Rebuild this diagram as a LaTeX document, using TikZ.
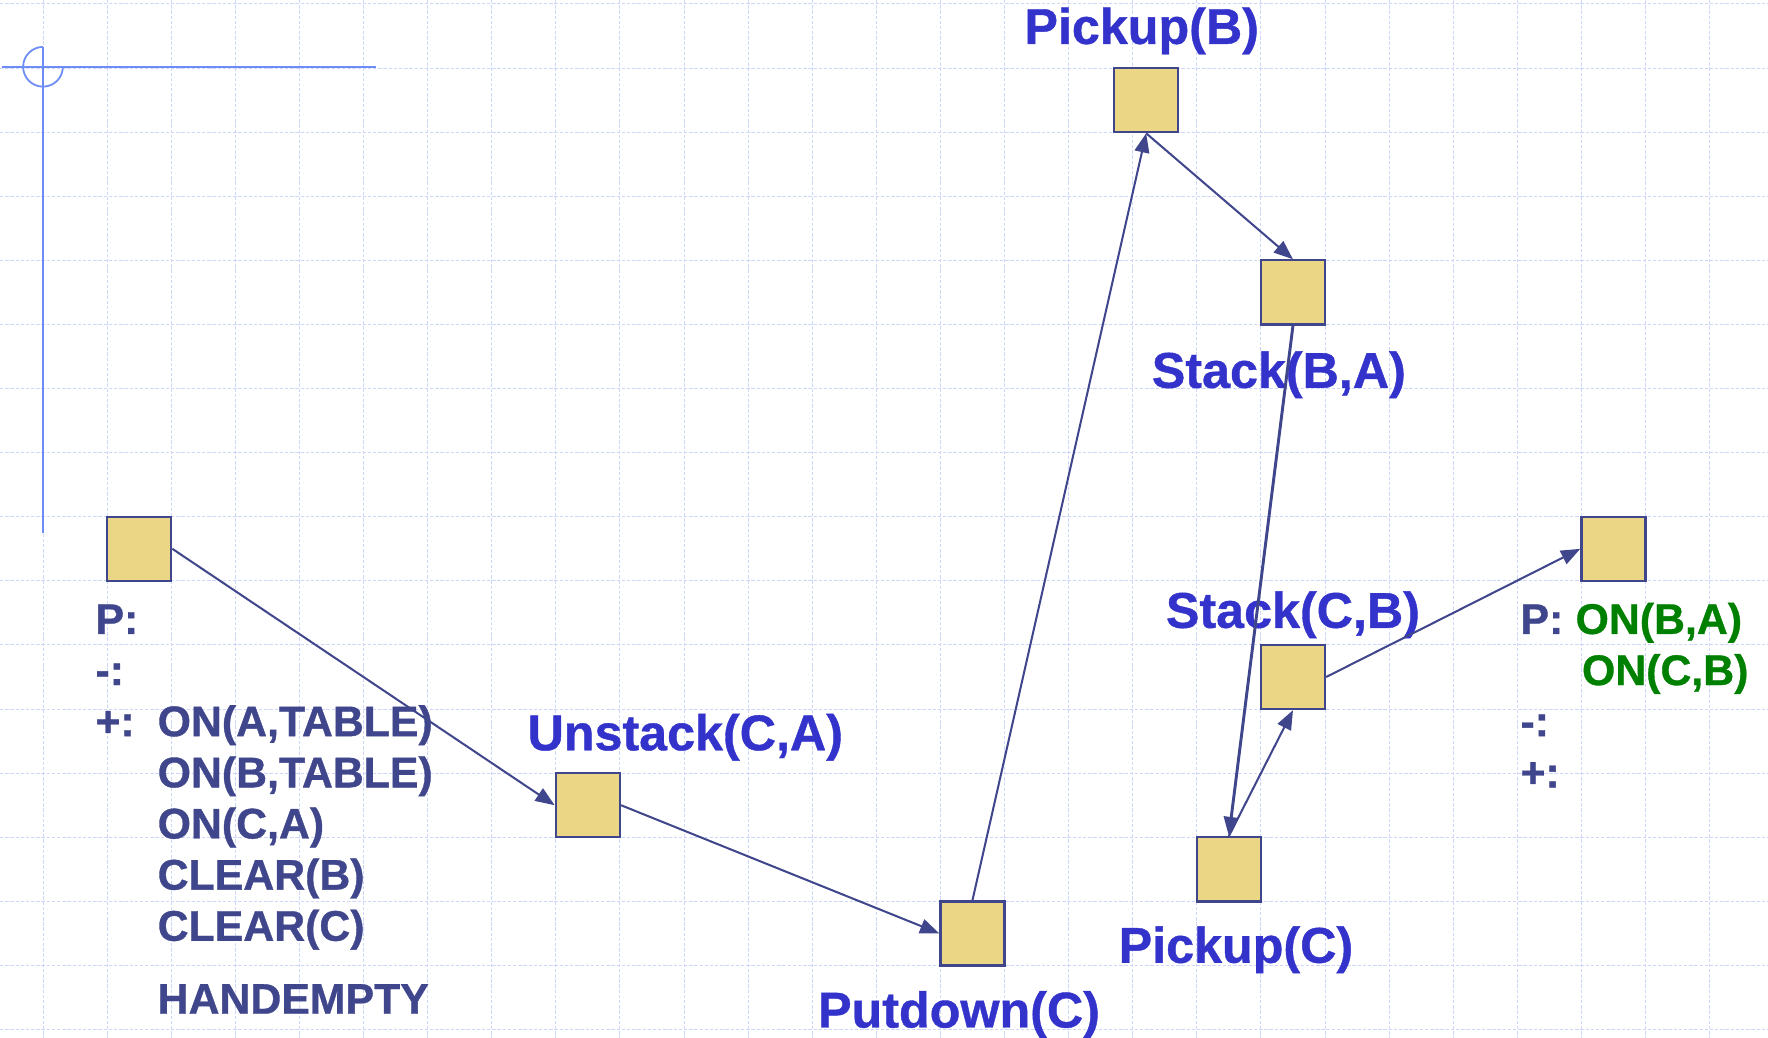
\documentclass[tikz,border=0pt]{standalone}
\usepackage{fontspec}
\setmainfont{Liberation Sans}[BoldFeatures={FakeBold=0.8}]
\usetikzlibrary{positioning, arrows.meta}
\definecolor{sand}{RGB}{235,214,133}
\definecolor{edge}{RGB}{64,70,140}
\definecolor{opblue}{RGB}{51,51,204}
\definecolor{facts}{RGB}{64,70,140}
\definecolor{goalgreen}{RGB}{0,128,0}
\definecolor{gridblue}{RGB}{205,215,250}
\definecolor{crossblue}{RGB}{110,140,245}

\begin{document}
\begin{tikzpicture}[x=1cm, y=-1cm,
    act/.style={rectangle, draw=edge, fill=sand, line width=1pt, minimum size=1cm, inner sep=0pt},
    oplabel/.style={font=\bfseries\fontsize{22.3}{26}\selectfont, text=opblue, inner sep=0pt},
    factlist/.style={font=\bfseries\fontsize{19}{22.7}\selectfont, text=facts, inner sep=0pt},
    gridline/.style={gridblue, line width=0.45pt, dash pattern=on 1.5pt off 0.8pt},
    cross/.style={crossblue, line width=0.8pt},
    link/.style={->, edge, line width=0.9pt},
    >={Triangle[length=3mm, width=2.3mm]}
    ]
\useasboundingbox (-0.671,-0.062) rectangle (26.911,16.131);
\foreach \k in {0,...,26}
    \draw[gridline] (\k,-0.062)--(\k,16.131);
\foreach \k in {0,...,16}
    \draw[gridline] (-0.671,\k)--(26.911,\k);

\coordinate (org) at (0,0.98);
\draw[cross] (org)++(-0.64,0)--++(5.84,0);
\draw[cross] (0,0.67)--(0,8.25);
\draw[cross] (0,0.67) arc[start angle=270, end angle=0, radius=0.31];

\node[act] (init) at (1.5,8.5) {};
\node[act] (unstack) at (8.5,12.5) {};
\node[act] (putdown) at (14.5,14.5) {};
\node[act] (pickb) at (17.21,1.5) {};
\node[act] (stackba) at (19.5,4.5) {};
\node[act] (stackcb) at (19.5,10.5) {};
\node[act] (pickc) at (18.5,13.5) {};
\node[act] (goal) at (24.5,8.5) {};

\node[oplabel, above=3.6mm of pickb, anchor=base, xshift=-0.7mm] (pickblbl) {Pickup(B)};
\node[oplabel, below=9.7mm of stackba, anchor=base, xshift=-2.2mm] (stackbalbl) {Stack(B,A)};
\node[oplabel, above=2.5mm of stackcb, anchor=base] (stackcblbl) {Stack(C,B)};
\node[oplabel, above=3.4mm of unstack, anchor=base, xshift=15.2mm] (unstacklbl) {Unstack(C,A)};
\node[oplabel, below=9.5mm of putdown, anchor=base, xshift=-2.1mm] (putdownlbl) {Putdown(C)};
\node[oplabel, below=9.4mm of pickc, anchor=base, xshift=1.1mm] (pickclbl) {Pickup(C)};

\node[factlist, below=8.1mm of init.south west, anchor=base west, xshift=-1.7mm] (initfacts)
    {\begin{tabular}[t]{@{}p{0.97cm}@{}l@{}}
    P: & \\
    -: & \\
    +: & ON(A,TABLE)\\
       & ON(B,TABLE)\\
       & ON(C,A)\\
       & CLEAR(B)\\
       & CLEAR(C)\\[3.4mm]
       & HANDEMPTY
    \end{tabular}};
\node[factlist, below=8.1mm of goal.south west, anchor=base west, xshift=-9.4mm] (goalfacts)
    {\begin{tabular}[t]{@{}p{0.86cm}@{}l@{}}
    P: & \textcolor{goalgreen}{ON(B,A)}\\
       & \hspace{1mm}\textcolor{goalgreen}{ON(C,B)}\\
    -: & \\
    +: &
    \end{tabular}};

\foreach \i/\j in {init.east/unstack.west, unstack.east/putdown.west,
            putdown.north/pickb.south, pickb.south/stackba.north,
            pickc.north/stackcb.south, stackcb.east/goal.west}
    \draw[link] (\i)--(\j);
\draw[link, line width=1.3pt] (stackba.south)--(pickc.north);
\end{tikzpicture}
\end{document}
